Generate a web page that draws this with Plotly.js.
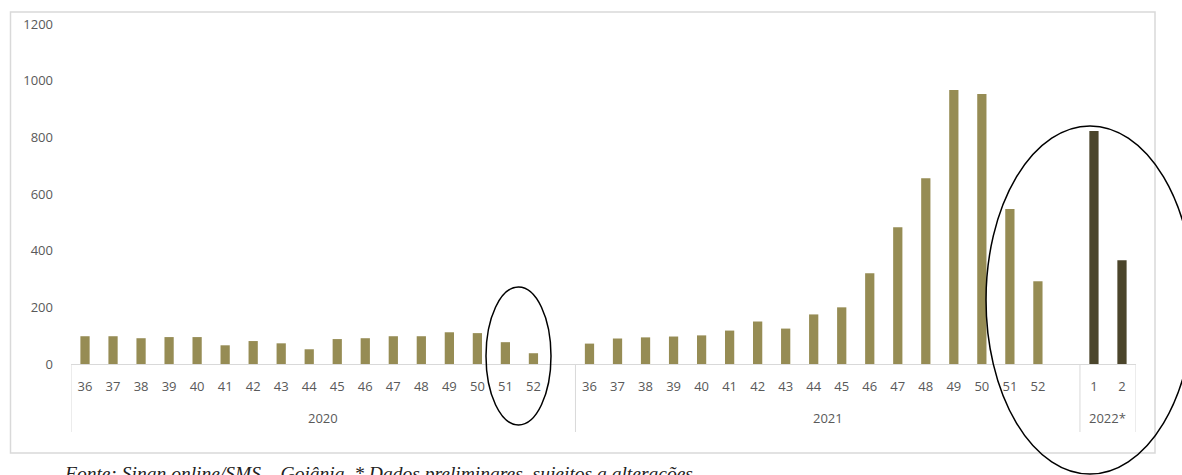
<!DOCTYPE html>
<html>
<head>
<meta charset="utf-8">
<script src="https://cdn.plot.ly/plotly-3.0.1.min.js"></script>
<style>html,body{margin:0;padding:0;background:#fff;}#chart{width:1182px;height:475px;}</style>
</head>
<body>
<div id="chart"></div>
<script>
// Epidemiological weeks and case counts
const weeks2020 = ["36","37","38","39","40","41","42","43","44","45","46","47","48","49","50","51","52",""];
const cases2020 = [98, 98, 91, 95, 95, 66, 81, 73, 52, 88, 91, 98, 98, 112, 109, 77, 38, null];
const weeks2021 = ["36","37","38","39","40","41","42","43","44","45","46","47","48","49","50","51","52",""];
const cases2021 = [72, 90, 94, 97, 101, 118, 150, 125, 175, 200, 320, 483, 656, 967, 953, 547, 292, null];
const weeks2022 = ["1","2"];
const cases2022 = [822, 366];
const yearLabels = ["2020", "2021", "2022*"];
const yTicks = [0, 200, 400, 600, 800, 1000, 1200];

const colorPast = "#968C54";
const colorNew = "#4B452B";

const W = 1182, H = 475;
const ml = 71, mr = W - 1136, mt = 24, mb = H - 364;
const pw = W - ml - mr, ph = H - mt - mb;
function px(x) { return (x - ml) / pw; }
function py(y) { return (H - mb - y) / ph; }

const xCats = [], xText = [], yVals = [], colors = [];
const groups = [];
function addGroup(year, weeks, vals, col) {
  const start = xCats.length;
  weeks.forEach((w, i) => {
    xCats.push(year + "|" + i);
    xText.push(w);
    yVals.push(vals[i]);
    colors.push(col);
  });
  groups.push({year: year, start: start, end: xCats.length - 1});
}
addGroup(yearLabels[0], weeks2020, cases2020, colorPast);
addGroup(yearLabels[1], weeks2021, cases2021, colorPast);
addGroup(yearLabels[2], weeks2022, cases2022, colorNew);

const trace = {
  type: "bar",
  x: xCats,
  y: yVals,
  marker: {color: colors},
  width: 0.33,
  hoverinfo: "y"
};

const divColor = "#d9d9d9";
const shapes = [
  {type: "rect", xref: "paper", yref: "paper",
   x0: px(10.5), x1: px(1155), y0: py(453), y1: py(12),
   line: {color: divColor, width: 1.5}, fillcolor: "rgba(0,0,0,0)", layer: "below"}
];
const annotations = [];
groups.forEach((g, k) => {
  shapes.push({type: "line", xref: "x", yref: "paper",
    x0: g.start - 0.5, x1: g.start - 0.5, y0: py(364), y1: py(432),
    line: {color: divColor, width: 1}});
  if (k === groups.length - 1) {
    shapes.push({type: "line", xref: "x", yref: "paper",
      x0: g.end + 0.5, x1: g.end + 0.5, y0: py(364), y1: py(432),
      line: {color: divColor, width: 1}});
  }
  annotations.push({xref: "x", yref: "paper", x: (g.start + g.end) / 2, y: py(418),
    xanchor: "center", yanchor: "middle", text: g.year, showarrow: false,
    font: {family: "Open Sans, sans-serif", size: 13, color: "#595959"}});
});
shapes.push(
  {type: "circle", xref: "paper", yref: "paper",
   x0: px(486), x1: px(551), y0: py(425), y1: py(287),
   line: {color: "#000", width: 1.5}},
  {type: "circle", xref: "paper", yref: "paper",
   x0: px(986), x1: px(1194), y0: py(474), y1: py(126),
   line: {color: "#000", width: 1.5}}
);
annotations.push(
  {xref: "paper", yref: "paper", x: px(62), y: py(461), xanchor: "left", yanchor: "top",
   text: "Fonte: Sinan online/SMS – Goiânia. * Dados preliminares, sujeitos a alterações.",
   showarrow: false,
   font: {family: "Liberation Serif, serif", size: 19.5, color: "#222", style: "italic"}}
);

const layout = {
  width: W, height: H,
  margin: {l: ml, r: mr, t: mt, b: mb, pad: 0},
  paper_bgcolor: "#fff",
  plot_bgcolor: "#fff",
  showlegend: false,
  font: {family: "Open Sans, sans-serif", size: 13, color: "#595959"},
  xaxis: {
    type: "category",
    categoryorder: "array",
    categoryarray: xCats,
    tickvals: xCats,
    ticktext: xText,
    range: [-0.5, xCats.length - 0.5],
    showline: true,
    linecolor: divColor,
    linewidth: 1,
    showgrid: false,
    zeroline: false,
    ticks: "",
    ticklabelstandoff: 10,
    tickangle: 0,
    tickfont: {family: "Open Sans, sans-serif", size: 13, color: "#595959"},
    fixedrange: true
  },
  yaxis: {
    range: [0, 1200],
    tickvals: yTicks,
    ticktext: yTicks.map(String),
    showgrid: false,
    zeroline: false,
    showline: false,
    ticks: "",
    ticklabelstandoff: 17,
    tickfont: {family: "Open Sans, sans-serif", size: 13, color: "#595959"},
    fixedrange: true
  },
  shapes: shapes,
  annotations: annotations
};

Plotly.newPlot("chart", [trace], layout, {displayModeBar: false, staticPlot: true});
</script>
</body>
</html>
